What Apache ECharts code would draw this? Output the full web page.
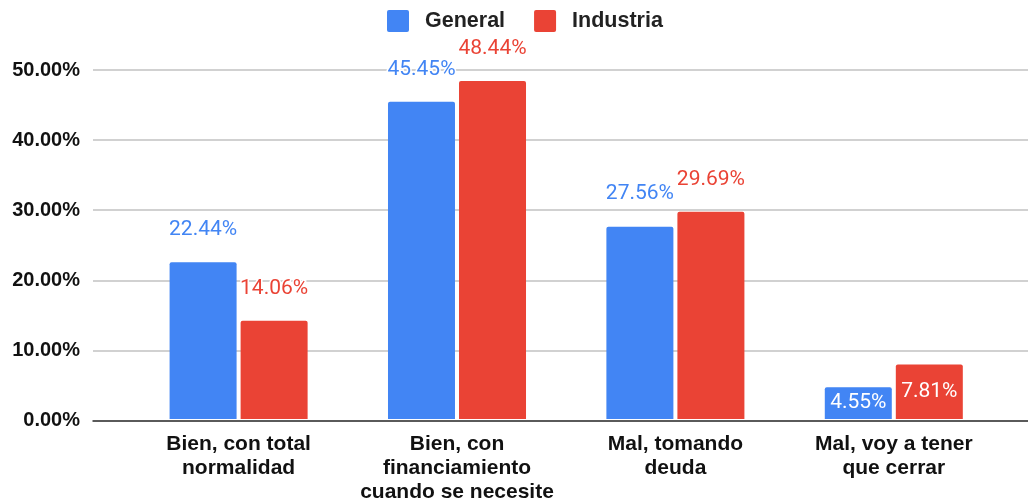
<!DOCTYPE html>
<html>
<head>
<meta charset="utf-8">
<script src="https://cdn.jsdelivr.net/npm/echarts@6/dist/echarts.min.js"></script>
<style>
html,body{margin:0;padding:0;background:#fff;}
#c{width:1028px;height:504px;}
</style>
</head>
<body>
<div id="c"></div>
<script>
const categories = [
  "Bien, con total\nnormalidad",
  "Bien, con\nfinanciamiento\ncuando se necesite",
  "Mal, tomando\ndeuda",
  "Mal, voy a tener\nque cerrar"
];
const seriesNames = ["General", "Industria"];
const generalValues = [22.44, 45.45, 27.56, 4.55];
const industriaValues = [14.06, 48.44, 29.69, 7.81];
const yTicks = [0, 10, 20, 30, 40, 50];

const BLUE = "#4285F4";
const RED = "#EA4335";

function labelFor(v) {
  if (v < 10) {
    return { value: v, label: { position: "inside", color: "#fff", textBorderWidth: 0 } };
  }
  return { value: v };
}

const chart = echarts.init(document.getElementById("c"), null, { renderer: "canvas" });
const topLabel = (color) => ({
  show: true,
  position: "top",
  distance: 22,
  formatter: (p) => p.value.toFixed(2) + "%",
  fontFamily: "Roboto",
  fontSize: 21,
  color: color,
  textBorderColor: "#fff",
  textBorderWidth: 3
});

chart.setOption({
  animation: false,
  backgroundColor: "#fff",
  legend: {
    top: 5,
    left: 382,
    itemWidth: 22,
    itemHeight: 22,
    itemGap: 29,
    icon: "path://M2,0 H20 A2,2 0 0 1 22,2 V20 A2,2 0 0 1 20,22 H2 A2,2 0 0 1 0,20 V2 A2,2 0 0 1 2,0 Z",
    textStyle: { fontFamily: "Liberation Sans", fontWeight: "bold", fontSize: 21.5, color: "#222", padding: [0, 0, 0, 11] },
    data: seriesNames
  },
  grid: [
    { left: 93, right: 0, top: 70, bottom: 83.5 },
    { left: 129.4, right: 25, top: 70, bottom: 83.5 }
  ],
  xAxis: [
    {
      gridIndex: 0, type: "category", data: categories,
      axisLine: { show: true, lineStyle: { color: "#333", width: 1.5 } },
      axisTick: { show: false }, axisLabel: { show: false }, splitLine: { show: false }
    },
    {
      gridIndex: 1, type: "category", data: categories,
      axisLine: { show: false }, axisTick: { show: false },
      axisLabel: {
        show: true, interval: 0, margin: 13,
        fontFamily: "Liberation Sans", fontWeight: "bold", fontSize: 21,
        lineHeight: 24, color: "#111"
      }
    }
  ],
  yAxis: [
    {
      gridIndex: 0, type: "value", min: yTicks[0], max: yTicks[yTicks.length - 1], interval: 10,
      axisLine: { show: false }, axisTick: { show: false },
      axisLabel: {
        margin: 13, fontFamily: "Liberation Sans", fontWeight: "bold", fontSize: 20, color: "#111",
        formatter: (v) => v.toFixed(2) + "%"
      },
      splitLine: { show: true, lineStyle: { color: "#c2c2c2", width: 1.5 } }
    },
    {
      gridIndex: 1, type: "value", min: yTicks[0], max: yTicks[yTicks.length - 1], interval: 10,
      axisLine: { show: false }, axisTick: { show: false }, axisLabel: { show: false }, splitLine: { show: false }
    }
  ],
  series: [
    {
      name: seriesNames[0], type: "bar", xAxisIndex: 1, yAxisIndex: 1,
      barWidth: 67, barGap: "6%",
      itemStyle: { color: BLUE, borderRadius: [2, 2, 0, 0] },
      label: topLabel(BLUE),
      data: generalValues.map(labelFor),
      z: 3
    },
    {
      name: seriesNames[1], type: "bar", xAxisIndex: 1, yAxisIndex: 1,
      barWidth: 67, barGap: "6%",
      itemStyle: { color: RED, borderRadius: [2, 2, 0, 0] },
      label: topLabel(RED),
      data: industriaValues.map(labelFor),
      z: 3
    }
  ]
});
</script>
</body>
</html>
